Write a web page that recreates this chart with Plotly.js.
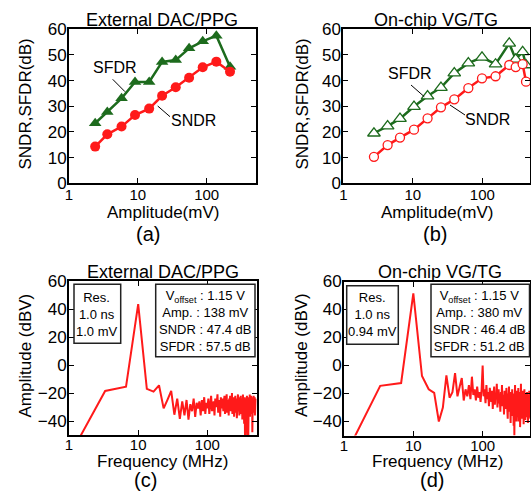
<!DOCTYPE html>
<html>
<head>
<meta charset="utf-8">
<script src="https://cdn.plot.ly/plotly-3.0.1.min.js"></script>
<style>html,body{margin:0;padding:0;background:#fff;}#chart{width:531px;height:491px;}</style>
</head>
<body>
<div id="chart"></div>
<script>
// ---------- data ----------
// (a) External DAC/PPG : SNDR/SFDR vs amplitude
const ampA = [2.4, 3.6, 5.8, 9.1, 14.6, 22.5, 35.5, 55.5, 87.5, 138, 218];
const sndrA = [14.3, 19.1, 22.1, 26.6, 29.1, 34.1, 37.4, 41.1, 45.2, 47.4, 43.5];
const sfdrA = [23.4, 27.8, 33.1, 39.5, 39.5, 47.3, 48.0, 52.6, 55.3, 57.5, 45.4];
// (b) On-chip VG/TG : SNDR/SFDR vs amplitude
const ampB = [2.76, 4.34, 6.54, 10.4, 16.3, 25.4, 39.5, 62.9, 98.9, 155, 244, 302, 380, 425];
const sndrB = [10.3, 14.9, 17.8, 20.9, 25.3, 29.6, 32.7, 37.1, 40.9, 41.7, 46.1, 45.3, 46.4, 39.6];
const sfdrB = [19.5, 22.3, 25.2, 29.9, 34.0, 37.3, 42.9, 46.8, 49.1, 46.4, 54.5, 48.3, 51.2, 46.1];

// (c)/(d) spectra: FFT bin frequencies (MHz)
const freq = [1.1, 3.33, 6.67, 10, 13.33, 16.67, 20, 23.33, 26.67, 30, 33.33, 36.67, 40, 43.33, 46.67, 50,
  53.33, 56.67, 60, 63.33, 66.67, 70, 73.33, 76.67, 80, 83.33, 86.67, 90, 93.33, 96.67, 100,
  103.3, 106.7, 110, 113.3, 116.7, 120, 123.3, 126.7, 130, 133.3, 136.7, 140, 143.3, 146.7, 150,
  153.3, 156.7, 160, 163.3, 166.7, 170, 173.3, 176.7, 180, 183.3, 186.7, 190, 193.3, 196.7, 200,
  203.3, 206.7, 210, 213.3, 216.7, 220, 223.3, 226.7, 230, 233.3, 236.7, 240, 243.3, 246.7, 250,
  253.3, 256.7, 260, 263.3, 266.7, 270, 273.3, 276.7, 280, 283.3, 286.7, 290, 293.3, 296.7, 300,
  303.3, 306.7, 310, 313.3, 316.7, 320, 323.3, 326.7, 330, 333.3, 336.7, 340, 343.3, 346.7, 350,
  353.3, 356.7, 360, 363.3, 366.7, 370, 373.3, 376.7, 380, 383.3, 386.7, 390, 393.3, 396.7, 400,
  403.3, 406.7, 410, 413.3, 416.7, 420, 423.3, 426.7, 430, 433.3, 436.7, 440, 443.3, 446.7, 450,
  453.3, 456.7, 460, 463.3, 466.7, 470, 473.3, 476.7, 480, 483.3, 486.7, 490, 493.3, 496.7, 500];
const specC = [-62, -18.5, -15.5, 43.5, -17, -19, -14.5, -31, -24.5, -18.5,
  -35.5, -24, -38.5, -26, -36, -25, -39, -28, -33, -24, -37, -27, -31, -26, -36, -25, -33, -23, -35, -27, -31,
  -24, -35, -28, -22, -33, -29, -26, -36, -24, -30,
  -27, -21, -34, -28, -25, -37, -23, -31, -29, -24,
  -33, -26, -22, -35, -28, -30, -21, -34, -27, -25,
  -36, -24, -29, -22, -33, -27, -31, -20, -35, -26,
  -28, -23, -37, -25, -30, -22, -34, -27, -24, -38,
  -26, -29, -21, -33, -28, -25, -36, -23, -31, -27,
  -22, -35, -26, -30, -24, -39, -27, -21, -33, -28,
  -25, -42, -29, -23, -52, -27, -31, -24, -36, -26,
  -30, -22, -55, -28, -25, -34, -52, -27, -23, -32,
  -26, -29, -21, -37, -27, -24, -33, -28, -22, -35,
  -26, -30, -24, -48, -27, -23, -31, -26, -29, -22,
  -34, -27, -25, -31, -23, -36, -28, -26, -30, -24];
const specD = [-62, -14.5, -12.5, 51.5, -7.5, -17, -19.5, -40, -30, -7,
  -23, -19, -5.5, -22, -15, -9, -25, -17, -22, -14, -24, -8, -21, -17, -25, -15, -23, -19, -26, -17, 0,
  -22, -17, -27, -14, -24, -19, -29, -16, -23, -26,
  -18, -31, -21, -15, -28, -20, -24, -13, -30, -22,
  -17, -27, -23, -33, -19, -26, -14, -29, -21, -25,
  -35, -18, -27, -22, -31, -16, -28, -24, -38, -20,
  -26, -15, -33, -23, -29, -41, -19, -25, -30, -17,
  -36, -22, -27, -43, -20, -50, -24, -14, -34, -26,
  -21, -40, -28, -18, -37, -25, -30, -16, -40, -23,
  -27, -33, -19, -44, -24, -29, -13, -35, -22, -31,
  -26, -38, -18, -28, -34, -21, -42, -25, -30, -17,
  -32, -24, -39, -20, -28, -35, -22, -30, -26, -37,
  -19, -29, -33, -23, -41, -27, -21, -31, -25, -36,
  -18, -28, -34, -22, -30, -38, -24, -19, -32, -27];

const xTickVals = [1, 10, 100];
const xTickText = ['1', '10', '100'];
const yTickTop = [0, 10, 20, 30, 40, 50, 60];
const yTickBot = [-40, -20, 0, 20, 40, 60];

// ---------- layout helpers ----------
const W = 531, H = 491;
const px = v => v / W;
const py = v => 1 - v / H;
const FONT = 'Liberation Sans, Arial, Helvetica, sans-serif';
const RED = '#ff1a1a', GREEN = '#1d6b1d';

const traces = [
  {x: ampA, y: sfdrA, xaxis: 'x', yaxis: 'y', mode: 'lines+markers', name: 'SFDR',
   line: {color: GREEN, width: 2.5}, marker: {symbol: 'triangle-up', size: 11, color: GREEN}},
  {x: ampA, y: sndrA, xaxis: 'x', yaxis: 'y', mode: 'lines+markers', name: 'SNDR',
   line: {color: RED, width: 2.5}, marker: {symbol: 'circle', size: 10, color: RED}},
  {x: ampB, y: sfdrB, xaxis: 'x2', yaxis: 'y2', mode: 'lines+markers', name: 'SFDR',
   line: {color: GREEN, width: 2.5}, marker: {symbol: 'triangle-up', size: 11, color: 'white', line: {color: GREEN, width: 1.3}}},
  {x: ampB, y: sndrB, xaxis: 'x2', yaxis: 'y2', mode: 'lines+markers', name: 'SNDR',
   line: {color: RED, width: 2.5}, marker: {symbol: 'circle', size: 9, color: 'white', line: {color: RED, width: 1.3}}},
  {x: freq, y: specC, xaxis: 'x3', yaxis: 'y3', mode: 'lines', name: 'spectrum (c)',
   line: {color: RED, width: 2}},
  {x: freq, y: specD, xaxis: 'x4', yaxis: 'y4', mode: 'lines', name: 'spectrum (d)',
   line: {color: RED, width: 2}}
];

function xax(domain, range, standoff) {
  return {domain: domain, type: 'log', range: range, tickvals: xTickVals, ticktext: xTickText,
    ticks: 'inside', ticklen: 5, tickwidth: 1, tickcolor: '#000', showline: true, linewidth: 2, linecolor: '#000',
    mirror: 'ticks', showgrid: false, zeroline: false, tickfont: {family: FONT, size: 15, color: '#000'},
    ticklabelstandoff: standoff, automargin: false};
}
function yax(domain, range, tv) {
  return {domain: domain, range: range, tickvals: tv,
    ticks: 'inside', ticklen: 5, tickwidth: 1, tickcolor: '#000', showline: true, linewidth: 2, linecolor: '#000',
    mirror: 'ticks', showgrid: false, zeroline: false, tickfont: {family: FONT, size: 17, color: '#000'},
    ticklabelstandoff: -3, automargin: false};
}

function txt(text, x, y, size, extra) {
  return Object.assign({text: text, xref: 'paper', yref: 'paper', x: px(x), y: py(y),
    xanchor: 'center', yanchor: 'middle', showarrow: false,
    font: {family: FONT, size: size, color: '#000'}}, extra || {});
}

const annotations = [
  txt('External DAC/PPG', 162, 20.5, 18),
  txt('On-chip VG/TG', 435.5, 20.5, 18),
  txt('External DAC/PPG', 162.5, 271.5, 18),
  txt('On-chip VG/TG', 440, 271.5, 18),
  txt('Amplitude(mV)', 162.5, 212.5, 17),
  txt('Amplitude(mV)', 437, 212.5, 17),
  txt('Frequency (MHz)', 162.5, 461, 17),
  txt('Frequency (MHz)', 437, 461, 17),
  txt('SNDR,SFDR(dB)', 24.5, 104, 17, {textangle: -90}),
  txt('SNDR,SFDR(dB)', 301.5, 104, 17, {textangle: -90}),
  txt('Amplitude (dBV)', 25, 355.5, 17, {textangle: -90}),
  txt('Amplitude (dBV)', 301.5, 355.5, 17, {textangle: -90}),
  txt('(a)', 148.3, 233.5, 20),
  txt('(b)', 435, 233.5, 20),
  txt('(c)', 145, 479.5, 20),
  txt('(d)', 431.7, 479.5, 20),
  txt('SFDR', 115, 67.7, 16),
  txt('SNDR', 193.3, 120, 16),
  txt('SFDR', 410, 74, 16),
  txt('SNDR', 487.7, 119.3, 16),
  txt('Res.<br>1.0 ns<br>1.0 mV', 97.3, 314.8, 13),
  txt('V<sub>offset</sub> : 1.15 V<br>Amp. : 138 mV<br>SNDR : 47.4 dB<br>SFDR : 57.5 dB', 205.5, 321, 13),
  txt('Res.<br>1.0 ns<br>0.94 mV', 372.3, 314.8, 13),
  txt('V<sub>offset</sub> : 1.15 V<br>Amp. : 380 mV<br>SNDR : 46.4 dB<br>SFDR : 51.2 dB', 479, 321, 13)
];

function seg(x0, y0, x1, y1) {
  return {type: 'line', xref: 'paper', yref: 'paper', x0: px(x0), y0: py(y0), x1: px(x1), y1: py(y1),
    line: {color: '#000', width: 1}};
}
function box(x0, y0, x1, y1) {
  return {type: 'rect', xref: 'paper', yref: 'paper', x0: px(x0), y0: py(y0), x1: px(x1), y1: py(y1),
    line: {color: '#222', width: 1.5}, fillcolor: 'white', layer: 'above'};
}
const shapes = [
  seg(112.7, 79.3, 125, 91.7),
  seg(157.7, 106, 170, 116.7),
  seg(411, 85, 424.3, 96.7),
  seg(450, 105, 465, 115),
  box(74, 284.3, 120.7, 343.3),
  box(155.7, 284.3, 255, 356.7),
  box(346.7, 285.7, 398.3, 344.3),
  box(431, 284.3, 529.5, 356.7)
];

const layout = {
  width: W, height: H, margin: {l: 0, r: 0, t: 0, b: 0}, showlegend: false,
  paper_bgcolor: 'white', plot_bgcolor: 'white',
  font: {family: FONT, color: '#000'},
  xaxis: xax([px(69), px(256)], [0, 2.716], -3),
  yaxis: yax([py(183.3), py(29.3)], [0, 60], yTickTop),
  xaxis2: Object.assign(xax([px(343.3), px(530.3)], [0, 2.69], -3), {anchor: 'y2'}),
  yaxis2: Object.assign(yax([py(183.3), py(29.3)], [0, 60], yTickTop), {anchor: 'x2'}),
  xaxis3: Object.assign(xax([px(69), px(256.7)], [0, 2.713], -5), {anchor: 'y3'}),
  yaxis3: Object.assign(yax([py(435), py(281)], [-50, 60], yTickBot), {anchor: 'x3'}),
  xaxis4: Object.assign(xax([px(344), px(530)], [0, 2.683], -5), {anchor: 'y4'}),
  yaxis4: Object.assign(yax([py(435.5), py(281.5)], [-50, 60], yTickBot), {anchor: 'x4'}),
  annotations: annotations,
  shapes: shapes
};
layout.xaxis.anchor = 'y';
layout.yaxis.anchor = 'x';

Plotly.newPlot('chart', traces, layout, {staticPlot: true, displayModeBar: false});
</script>
</body>
</html>
